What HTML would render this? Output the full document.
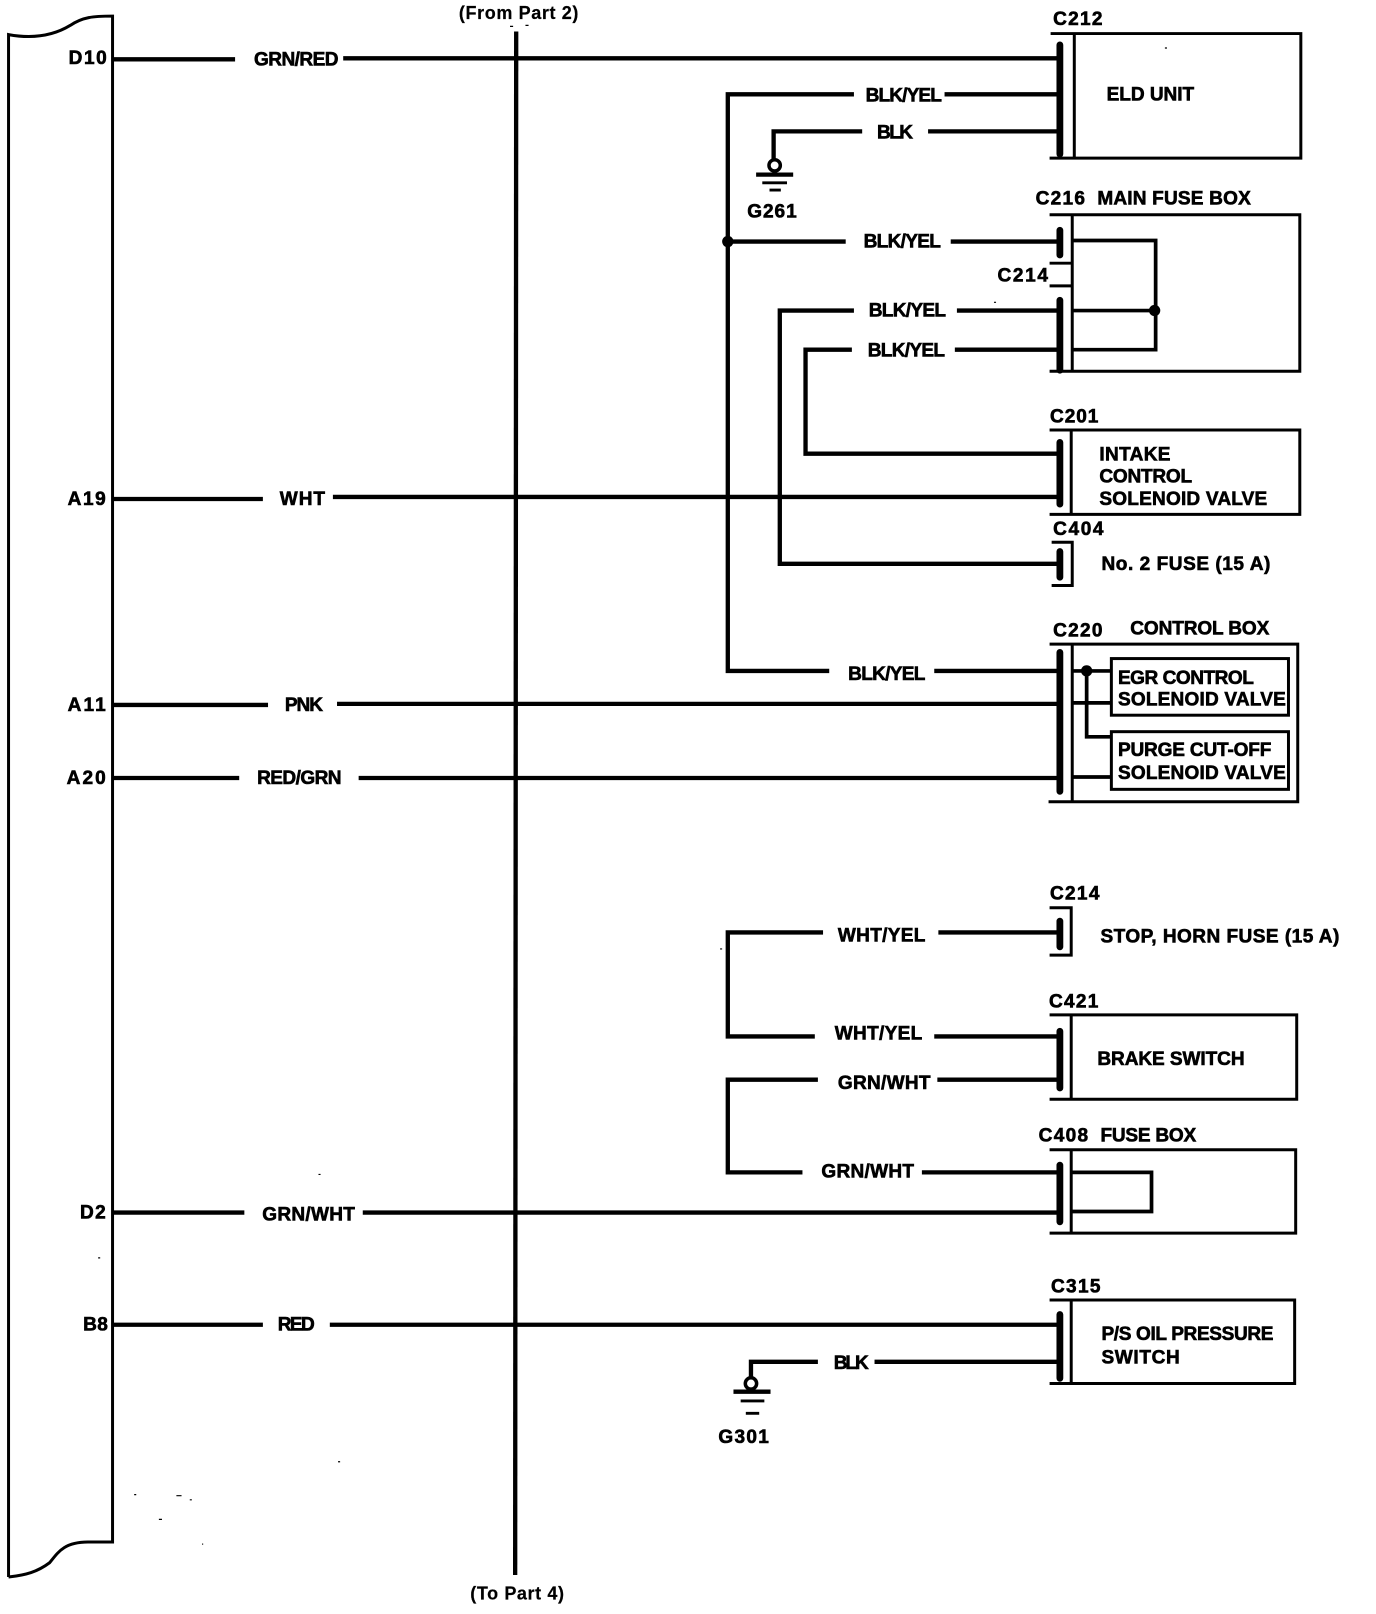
<!DOCTYPE html>
<html><head><meta charset="utf-8"><style>
html,body{margin:0;padding:0;background:#fff;width:1376px;height:1614px;overflow:hidden}
svg{display:block}
text{font-family:"Liberation Sans",sans-serif;font-weight:bold;font-size:18.5px;fill:#000;stroke:#000;stroke-width:.6}
.w{fill:none;stroke:#000;stroke-width:4.2}
.t{fill:none;stroke:#000;stroke-width:2.9}
.b{fill:none;stroke:#000;stroke-width:6.6;stroke-linecap:round}
</style></head><body>
<svg xmlns="http://www.w3.org/2000/svg" width="1376" height="1614" viewBox="0.7 0.4 1336.3 1567.5" preserveAspectRatio="none">
<rect x="0" y="0" width="1338" height="1569" fill="#fff"/>
<!-- left strip -->
<path class="t" transform="translate(1,0)" d="M8,1532 L8,34 C30,38 50,36 68,25 C80,17 90,16 109,16 L109,1498 L85,1498 C62,1498 56,1508 48,1518 C36,1527 25,1530 8,1532"/>
<!-- main vertical -->
<path class="w" d="M502,31 L501,1530"/>
<!-- wires -->
<path class="w" d="M111,58H229 M334,57H1030"/>
<path class="w" d="M918,92H1030 M830,92H707.500V652H806 M908,652H1030"/>
<circle cx="707.500" cy="235" r="5.500"/>
<path class="w" d="M838,128H752V155 M902,128H1030"/>
<circle cx="753" cy="161" r="5.500" fill="#fff" stroke="#000" stroke-width="3.400"/>
<path class="w" d="M735,170H771" style="stroke-width:4.200"/>
<path class="w" d="M741,178H765 M748,185H759" style="stroke-width:2.800"/>
<path class="w" d="M707,235H822 M924,235H1030"/>
<path class="w" d="M830,302H758V548H1030 M930,302H1030"/>
<path class="w" d="M828,340H783V441H1030 M928,340H1030"/>
<path class="w" d="M111,485H256 M324,483H1030"/>
<path class="w" d="M111,685H261 M328,684H1030"/>
<path class="w" d="M111,756H233 M349,756H1030"/>
<path class="w" d="M800,906H707.500V1007H792 M912,906H1030 M908,1007H1030"/>
<path class="w" d="M795,1049H707.500V1139H780 M911,1049H1030 M896,1139H1030"/>
<path class="w" d="M111,1178H238 M353,1178H1030"/>
<path class="w" d="M111,1287H256 M321,1287H1030"/>
<path class="w" d="M795,1323H730V1338 M850,1323H1030"/>
<circle cx="730" cy="1344" r="5.500" fill="#fff" stroke="#000" stroke-width="3.400"/>
<path class="w" d="M713,1352H749" style="stroke-width:4.200"/>
<path class="w" d="M720,1361H743 M725,1373H738" style="stroke-width:2.800"/>
<!-- connector bars -->
<path class="b" d="M1030,44V150 M1030,224V248 M1030,292V360 M1030,430V490 M1030,536V561 M1030,634V769 M1030,895V920 M1030,1002V1057 M1030,1132V1187 M1030,1277V1339"/>
<!-- boxes -->
<path class="t" d="M1021,33H1264V154H1020 M1044,33V154"/>
<path class="t" d="M1020,209H1263V361H1020 M1042,209V361 M1020,256H1042 M1020,278H1042"/>
<path class="w" d="M1042,234H1123V340H1042 M1042,302H1123" style="stroke-width:3.600"/>
<circle cx="1122" cy="302" r="5.500"/>
<path class="t" d="M1020,418H1263V500H1020 M1041,418V500"/>
<path class="t" d="M1022,527H1042V569H1022"/>
<path class="t" d="M1020,626H1261V779H1019 M1042,626V779"/>
<rect class="t" x="1080" y="640" width="172" height="55"/>
<rect class="t" x="1080" y="711" width="172" height="56"/>
<path class="w" d="M1042,652H1080 M1042,683H1080 M1056,652V716H1080 M1042,755H1080" style="stroke-width:3.600"/>
<circle cx="1056" cy="652" r="5.500"/>
<path class="t" d="M1020,882H1041V928H1020"/>
<path class="t" d="M1020,986H1260V1068H1020 M1041,986V1068"/>
<path class="t" d="M1020,1117H1259V1198H1020 M1041,1117V1198"/>
<path class="w" d="M1041,1139H1119V1177H1041" style="stroke-width:3.600"/>
<path class="t" d="M1020,1263H1258V1344H1020 M1041,1263V1344"/>
<!-- specks -->
<path class="t" style="stroke-width:1.200" d="M496,26h3 M511,25h3 M1132,47h2 M966,294h2 M700,922h2 M310,1141h2 M96,1222h2 M329,1420h2 M131,1452h2 M172,1453h5 M185,1457h2 M155,1476h3 M197,1500h1"/>
<!-- labels -->
<g transform="translate(0.4,0.8)">
<text x="446" y="18" textLength="116" style="font-size:17.5px;stroke-width:.2">(From Part 2)</text>
<text x="457" y="1553" textLength="91" style="font-size:17.5px;stroke-width:.2">(To Part 4)</text>
<text x="67" y="62" textLength="37">D10</text>
<text x="66" y="490" textLength="37">A19</text>
<text x="66" y="690" textLength="37">A11</text>
<text x="65" y="761" textLength="38">A20</text>
<text x="78" y="1183" textLength="25">D2</text>
<text x="81" y="1292" textLength="24">B8</text>
<text x="247" y="63" textLength="82">GRN/RED</text>
<text x="272" y="490" textLength="44">WHT</text>
<text x="277" y="690" textLength="37">PNK</text>
<text x="250" y="761" textLength="82">RED/GRN</text>
<text x="255" y="1185" textLength="90">GRN/WHT</text>
<text x="270" y="1292" textLength="36">RED</text>
<text x="841" y="98" textLength="74">BLK/YEL</text>
<text x="852" y="134" textLength="35">BLK</text>
<text x="839" y="240" textLength="75">BLK/YEL</text>
<text x="844" y="307" textLength="75">BLK/YEL</text>
<text x="843" y="346" textLength="75">BLK/YEL</text>
<text x="824" y="660" textLength="75">BLK/YEL</text>
<text x="814" y="914" textLength="85">WHT/YEL</text>
<text x="811" y="1009" textLength="85">WHT/YEL</text>
<text x="814" y="1057" textLength="90">GRN/WHT</text>
<text x="798" y="1143" textLength="90">GRN/WHT</text>
<text x="810" y="1329" textLength="34">BLK</text>
<text x="726" y="211" textLength="48">G261</text>
<text x="698" y="1401" textLength="49">G301</text>
<text x="1023" y="24" textLength="48">C212</text>
<text x="1075" y="97" textLength="85">ELD UNIT</text>
<text x="1006" y="198" textLength="48">C216</text>
<text x="1066" y="198" textLength="149">MAIN FUSE BOX</text>
<text x="969" y="273" textLength="49">C214</text>
<text x="1020" y="410" textLength="47">C201</text>
<text x="1068" y="447" textLength="69">INTAKE</text>
<text x="1068" y="468" textLength="90">CONTROL</text>
<text x="1068" y="490" textLength="163">SOLENOID VALVE</text>
<text x="1023" y="519" textLength="49">C404</text>
<text x="1070" y="553" textLength="164">No. 2 FUSE (15 A)</text>
<text x="1023" y="618" textLength="48">C220</text>
<text x="1098" y="616" textLength="135">CONTROL BOX</text>
<text x="1086" y="664" textLength="132">EGR CONTROL</text>
<text x="1086" y="685" textLength="163">SOLENOID VALVE</text>
<text x="1086" y="734" textLength="149">PURGE CUT-OFF</text>
<text x="1086" y="756" textLength="163">SOLENOID VALVE</text>
<text x="1020" y="873" textLength="48">C214</text>
<text x="1069" y="915" textLength="232">STOP, HORN FUSE (15 A)</text>
<text x="1019" y="978" textLength="48">C421</text>
<text x="1066" y="1034" textLength="143">BRAKE SWITCH</text>
<text x="1009" y="1108" textLength="48">C408</text>
<text x="1069" y="1108" textLength="93">FUSE BOX</text>
<text x="1021" y="1255" textLength="48">C315</text>
<text x="1070" y="1301" textLength="167">P/S OIL PRESSURE</text>
<text x="1070" y="1324" textLength="76">SWITCH</text>
</g>
</svg>
</body></html>
